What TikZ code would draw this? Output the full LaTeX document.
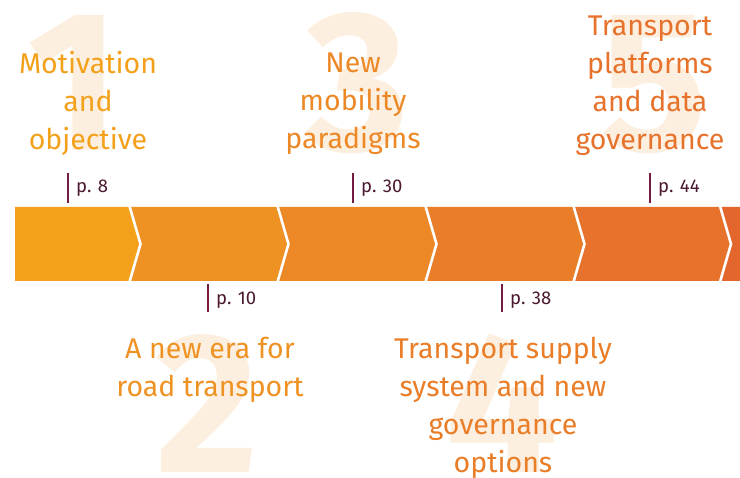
\documentclass[tikz,border=0pt]{standalone}
\usepackage{fontspec}
\setmainfont{Fira Sans}
\definecolor{cA}{HTML}{F3A01B}
\definecolor{cB}{HTML}{EF9224}
\definecolor{cC}{HTML}{EC8826}
\definecolor{cD}{HTML}{E97D28}
\definecolor{cE}{HTML}{E6722B}
\definecolor{cF}{HTML}{E3672D}
\definecolor{numcol}{HTML}{FDEFE0}
\definecolor{tickcol}{HTML}{741B42}
\definecolor{pagecol}{HTML}{4A1830}
\tikzset{
  bignum/.style={font=\fontsize{200}{200}\selectfont\bfseries, text=numcol, inner sep=0pt, anchor=base},
  title/.style={font=\fontsize{28.5}{38}\selectfont, align=center, inner sep=0pt, anchor=base},
  pagelbl/.style={font=\fontsize{18.5}{22}\selectfont, text=pagecol, inner sep=0pt, anchor=base west},
  tick/.style={draw=tickcol, line width=2.6pt},
  sep/.style={draw=white, line width=2.6pt}
}
\begin{document}
\begin{tikzpicture}[x=1pt,y=-1pt]
\useasboundingbox (0,0) rectangle (740,478);
% big numerals
\node[bignum] (n1) at (74,151) {1};
\node[bignum] (n3) at (357,151) {3};
\node[bignum] (n5) at (654,151) {5};
\node[bignum] (n2) at (207,473) {2};
\node[bignum] (n4) at (502,473) {4};
% band segments
\def\bA{129.5}\def\bB{277.5}\def\bC{425.5}\def\bD{573.5}\def\bE{720}
\def\tp{11}
\fill[cA] (15,207) -- (\bA,207) -- (\bA+\tp,244) -- (\bA,281) -- (15,281) -- cycle;
\fill[cB] (\bA,207) -- (\bB,207) -- (\bB+\tp,244) -- (\bB,281) -- (\bA,281) -- (\bA+\tp,244) -- cycle;
\fill[cC] (\bB,207) -- (\bC,207) -- (\bC+\tp,244) -- (\bC,281) -- (\bB,281) -- (\bB+\tp,244) -- cycle;
\fill[cD] (\bC,207) -- (\bD,207) -- (\bD+\tp,244) -- (\bD,281) -- (\bC,281) -- (\bC+\tp,244) -- cycle;
\fill[cE] (\bD,207) -- (\bE,207) -- (\bE+\tp,244) -- (\bE,281) -- (\bD,281) -- (\bD+\tp,244) -- cycle;
\fill[cF] (\bE,207) -- (740,207) -- (740,281) -- (\bE,281) -- (\bE+\tp,244) -- cycle;
\foreach \b in {\bA,\bB,\bC,\bD,\bE}
  \draw[sep] (\b,206) -- (\b+\tp,244) -- (\b,282);
% titles (anchor = baseline of last line)
\node[title, text=cA] (t1) at (88,150) {Motivation\\and\\objective};
\node[title, text=cB] (t2) at (210,397) {A new era for\\road transport};
\node[title, text=cC] (t3) at (353,149) {New\\mobility\\paradigms};
\node[title, text=cD] (t4) at (503,473) {Transport supply\\system and new\\governance\\options};
\node[title, text=cE] (t5) at (650,150) {Transport\\platforms\\and data\\governance};
% page ticks
\coordinate (k1a) at (68,173); \coordinate (k1b) at (68,203);
\coordinate (k2a) at (208,284); \coordinate (k2b) at (208,312);
\coordinate (k3a) at (353,173); \coordinate (k3b) at (353,203);
\coordinate (k4a) at (502,284); \coordinate (k4b) at (502,312);
\coordinate (k5a) at (650,173); \coordinate (k5b) at (650,203);
\draw[tick] (k1a) -- (k1b);
\draw[tick] (k2a) -- (k2b);
\draw[tick] (k3a) -- (k3b);
\draw[tick] (k4a) -- (k4b);
\draw[tick] (k5a) -- (k5b);
\node[pagelbl] (p1) at (76,193) {p. 8};
\node[pagelbl] (p2) at (216,305) {p. 10};
\node[pagelbl] (p3) at (361,193) {p. 30};
\node[pagelbl] (p4) at (510,305) {p. 38};
\node[pagelbl] (p5) at (658,193) {p. 44};
\end{tikzpicture}
\end{document}
